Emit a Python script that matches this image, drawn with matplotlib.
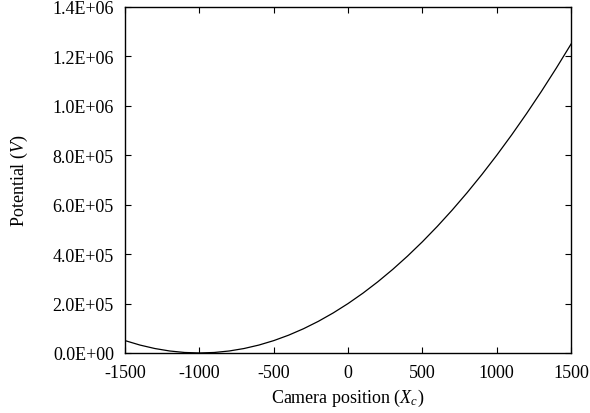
import numpy as np
import matplotlib.pyplot as plt

plt.rcParams['font.family'] = ['Liberation Serif', 'DejaVu Serif']
plt.rcParams['mathtext.fontset'] = 'custom'
plt.rcParams['mathtext.it'] = 'Liberation Serif:italic'
plt.rcParams['mathtext.rm'] = 'Liberation Serif'

# camera position vs potential
cam_x = [-1500, -1400, -1300, -1200, -1100, -1000, -900, -800, -700, -600,
         -500, -400, -300, -200, -100, 0, 100, 200, 300, 400,
         500, 600, 700, 800, 900, 1000, 1100, 1200, 1300, 1400, 1500]
potential = [50000, 32000, 18000, 8000, 2000, 0, 2000, 8000, 18000, 32000,
             50000, 72000, 98000, 128000, 162000, 200000, 242000, 288000, 338000, 392000,
             450000, 512000, 578000, 648000, 722000, 800000, 882000, 968000, 1058000, 1152000,
             1250000]

xticks = [-1500, -1000, -500, 0, 500, 1000, 1500]
yticks = [0, 200000, 400000, 600000, 800000, 1000000, 1200000, 1400000]
ytick_labels = ["0.0E+00", "2.0E+05", "4.0E+05", "6.0E+05", "8.0E+05",
                "1.0E+06", "1.2E+06", "1.4E+06"]

fig = plt.figure(figsize=(5.9, 4.14), dpi=100)
ax = fig.add_axes([0.212, 0.145, 0.756, 0.836])

ax.plot(cam_x, potential, color="black", linewidth=0.9)

ax.set_xlim(-1500, 1500)
ax.set_ylim(0, 1400000)
ax.set_xticks(xticks)
ax.set_xticklabels([str(t) for t in xticks])
ax.set_yticks(yticks)
ax.set_yticklabels(ytick_labels)
ax.tick_params(direction="in", top=True, right=True, length=4, width=0.8,
               labelsize=13, pad=8)
for s in ax.spines.values():
    s.set_linewidth(1.0)

ax.set_xlabel(r"Camera position ($X_c$)", fontsize=13, labelpad=4)
ax.set_ylabel(r"Potential ($V$)", fontsize=13, labelpad=16)

fig.savefig("out.png", dpi=100)
